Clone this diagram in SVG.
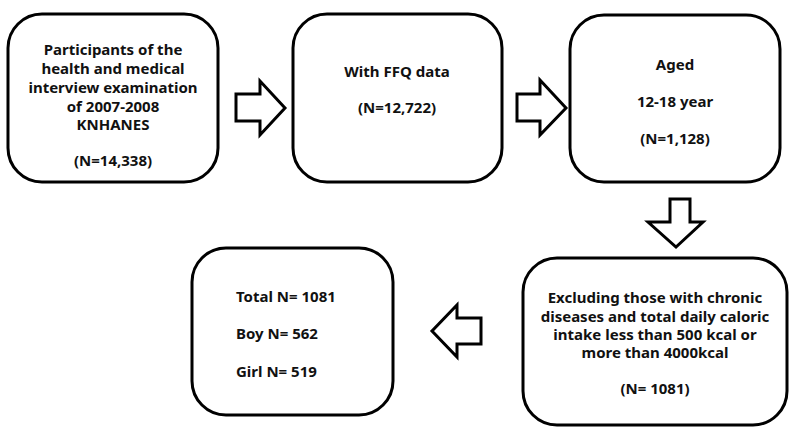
<svg xmlns="http://www.w3.org/2000/svg" width="798" height="434" viewBox="0 0 798 434">
<style>
.box{fill:#fff;stroke:#000;stroke-width:3}
.arr{fill:#fff;stroke:#000;stroke-width:3;stroke-linejoin:miter}
text{font-family:"Noto Sans","Liberation Sans",sans-serif;font-weight:bold;font-size:15px;fill:#111}
.c{text-anchor:middle}
</style>
<rect width="798" height="434" fill="#fff"/>
<g id="connectors">
<path class="arr" d="M236,94 H260 V81 L285,108 L260,135 V121 H236 Z"/>
<path class="arr" d="M517,94 H540 V80 L566,108 L540,135 V121 H517 Z"/>
<path class="arr" d="M670,199 H690 V222 H703 L676,247 L648,222 H670 Z"/>
<path class="arr" d="M481,318 H457 V305 L432,331 L457,357 V344 H481 Z"/>
</g>
<g id="n1">
<rect class="box" x="8" y="14" width="210" height="168" rx="34"/>
<text class="c" x="113" y="55">Participants of the</text>
<text class="c" x="113" y="74">health and medical</text>
<text class="c" x="113" y="93">interview examination</text>
<text class="c" x="113" y="112">of 2007-2008</text>
<text class="c" x="113" y="130">KNHANES</text>
<text class="c" x="113" y="166">(N=14,338)</text>
</g>
<g id="n2">
<rect class="box" x="293" y="14" width="209" height="168" rx="34"/>
<text class="c" x="397" y="77">With FFQ data</text>
<text class="c" x="397" y="113">(N=12,722)</text>
</g>
<g id="n3">
<rect class="box" x="570" y="15" width="210" height="167" rx="34"/>
<text class="c" x="675" y="70">Aged</text>
<text class="c" x="675" y="107">12-18 year</text>
<text class="c" x="675" y="144">(N=1,128)</text>
</g>
<g id="n4">
<rect class="box" x="523" y="258" width="264" height="167" rx="34"/>
<text class="c" x="655" y="303">Excluding those with chronic</text>
<text class="c" x="655" y="322">diseases and total daily caloric</text>
<text class="c" x="655" y="340">intake less than 500 kcal or</text>
<text class="c" x="655" y="358">more than 4000kcal</text>
<text class="c" x="655" y="394">(N= 1081)</text>
</g>
<g id="n5">
<rect class="box" x="192" y="248" width="201" height="167" rx="34"/>
<text x="236" y="302">Total N= 1081</text>
<text x="236" y="339">Boy N= 562</text>
<text x="236" y="377">Girl N= 519</text>
</g>
</svg>
